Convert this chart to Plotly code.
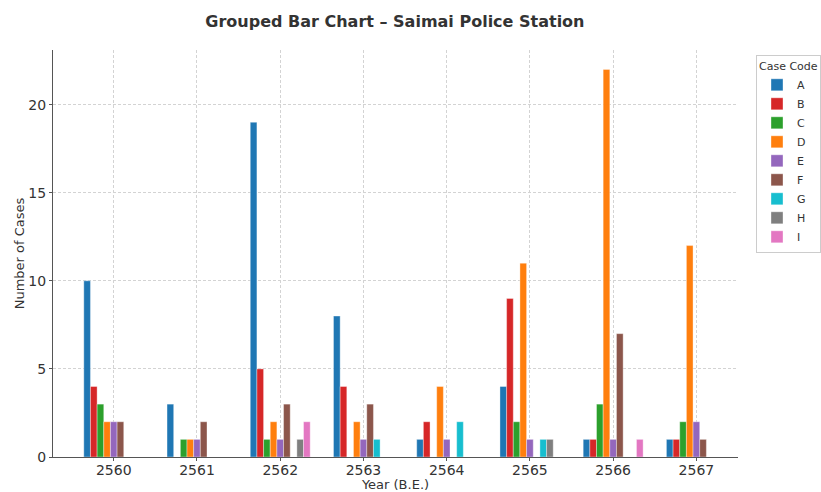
import plotly.graph_objects as go

years = [2560, 2561, 2562, 2563, 2564, 2565, 2566, 2567]
codes = ["A", "B", "C", "D", "E", "F", "G", "H", "I"]
A = [10, 3, 19, 8, 1, 4, 1, 1]
B = [4, 0, 5, 4, 2, 9, 1, 1]
C = [3, 1, 1, 0, 0, 2, 3, 2]
D = [2, 1, 2, 2, 4, 11, 22, 12]
E = [2, 1, 1, 1, 1, 1, 1, 2]
F = [2, 2, 3, 3, 0, 0, 7, 1]
G = [0, 0, 0, 1, 2, 1, 0, 0]
H = [0, 0, 1, 0, 0, 1, 0, 0]
I = [0, 0, 2, 0, 0, 0, 1, 0]
series = [A, B, C, D, E, F, G, H, I]
colors = ["#1f77b4", "#d62728", "#2ca02c", "#ff7f0e", "#9467bd",
          "#8c564b", "#17becf", "#7f7f7f", "#e377c2"]

bw = 0.08
fig = go.Figure()
for i, (code, vals, col) in enumerate(zip(codes, series, colors)):
    fig.add_trace(go.Bar(
        x=years, y=vals, name=code, width=bw, offset=(i - 4.5) * bw,
        marker=dict(color=col, line=dict(width=0.6, color="rgba(255,255,255,0.6)")),
    ))

font = "DejaVu Sans, sans-serif"
fig.update_layout(
    width=821, height=492, autosize=False,
    barmode="overlay",
    plot_bgcolor="white", paper_bgcolor="white",
    margin=dict(l=53, r=83, t=50, b=35),
    font=dict(family=font, size=13, color="#333"),
    title=dict(text="<b>Grouped Bar Chart – Saimai Police Station</b>",
               x=0.481, xanchor="center", y=1 - 21 / 492, yanchor="middle",
               font=dict(size=16, color="#333")),
    xaxis=dict(
        range=[2559.27, 2567.5], tickmode="array", tickvals=years,
        ticktext=[str(y) for y in years], automargin=False,
        showgrid=True, gridcolor="#d3d3d3", griddash="3px,2px", gridwidth=0.8,
        showline=True, linecolor="#555", linewidth=1.2,
        ticks="outside", ticklen=3, tickcolor="#555",
        tickfont=dict(size=14), ticklabelstandoff=-3,
        title=dict(text="Year (B.E.)", standoff=0, font=dict(size=13)),
        zeroline=False,
    ),
    yaxis=dict(
        range=[0, 23.1], tickvals=[0, 5, 10, 15, 20], automargin=False,
        showgrid=True, gridcolor="#d3d3d3", griddash="3px,2px", gridwidth=0.8,
        showline=True, linecolor="#555", linewidth=1.2,
        ticks="outside", ticklen=3, tickcolor="#555",
        tickfont=dict(size=14),
        title=dict(text="Number of Cases", standoff=0, font=dict(size=13)),
        zeroline=False,
    ),
    legend=dict(
        title=dict(text="Case Code", font=dict(size=11)),
        xref="container", yref="container",
        x=756 / 821, xanchor="left", y=1 - 55 / 492, yanchor="top",
        font=dict(size=11), bordercolor="#cccccc", borderwidth=1,
        bgcolor="white", tracegroupgap=0, itemwidth=30,
    ),
)

fig.write_html(
    "out.html",
    config={"displayModeBar": False, "responsive": False},
    post_script=(
        "document.body.style.margin='0px';"
        "document.body.style.overflow='hidden';"
        "var gd=document.getElementById('{plot_id}');"
        "Plotly.relayout(gd,{width:821,height:492});"
    ),
)
